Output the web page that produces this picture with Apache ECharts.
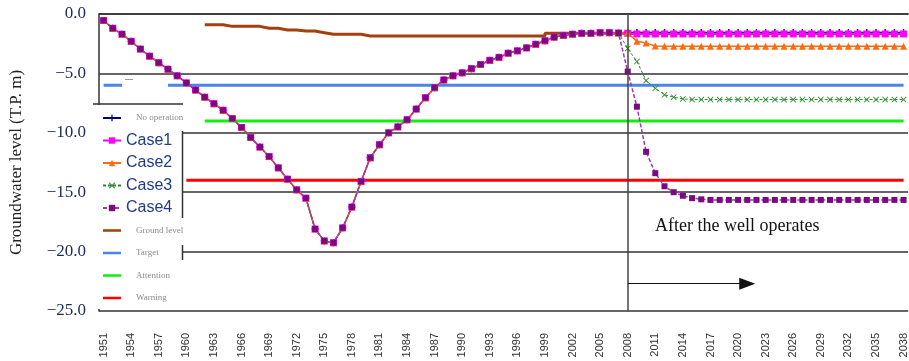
<!DOCTYPE html>
<html><head><meta charset="utf-8">
<script src="https://cdn.jsdelivr.net/npm/echarts@6/dist/echarts.min.js"></script>
<style>html,body{margin:0;padding:0;background:#fff}#c{width:909px;height:361px}</style>
</head><body><div id="c"></div>
<script>
const years = ['1951','1952','1953','1954','1955','1956','1957','1958','1959','1960',
'1961','1962','1963','1964','1965','1966','1967','1968','1969','1970',
'1971','1972','1973','1974','1975','1976','1977','1978','1979','1980',
'1981','1982','1983','1984','1985','1986','1987','1988','1989','1990',
'1991','1992','1993','1994','1995','1996','1997','1998','1999','2000',
'2001','2002','2003','2004','2005','2006','2007','2008','2009','2010',
'2011','2012','2013','2014','2015','2016','2017','2018','2019','2020',
'2021','2022','2023','2024','2025','2026','2027','2028','2029','2030',
'2031','2032','2033','2034','2035','2036','2037','2038'];

// 1951-2007 (common to all cases)
const history = [-0.55,-1.2,-1.7,-2.3,-2.95,-3.55,-4.1,-4.65,-5.2,-5.8,
-6.4,-7.0,-7.55,-8.1,-8.8,-9.55,-10.4,-11.2,-12.0,-12.95,
-13.9,-14.8,-15.5,-18.1,-19.1,-19.25,-18.0,-16.25,-14.1,-12.1,
-11.0,-10.0,-9.5,-8.9,-8.0,-7.05,-6.2,-5.55,-5.2,-4.95,
-4.6,-4.25,-3.9,-3.65,-3.3,-3.1,-2.85,-2.55,-2.25,-1.95,
-1.8,-1.7,-1.63,-1.63,-1.57,-1.57,-1.6];

// 2008-2038
const noOpAfter = [-1.55,-1.55,-1.55,-1.55,-1.55,-1.55,-1.55,-1.55,-1.55,-1.55,-1.55,-1.55,-1.55,-1.55,-1.55,-1.55,-1.55,-1.55,-1.55,-1.55,-1.55,-1.55,-1.55,-1.55,-1.55,-1.55,-1.55,-1.55,-1.55,-1.55,-1.55];
const case1After = [-1.62,-1.68,-1.68,-1.68,-1.68,-1.68,-1.68,-1.68,-1.68,-1.68,-1.68,-1.68,-1.68,-1.68,-1.68,-1.68,-1.68,-1.68,-1.68,-1.68,-1.68,-1.68,-1.68,-1.68,-1.68,-1.68,-1.68,-1.68,-1.68,-1.68,-1.68];
const case2After = [-1.6,-2.3,-2.45,-2.7,-2.72,-2.72,-2.72,-2.72,-2.72,-2.72,-2.72,-2.72,-2.72,-2.72,-2.72,-2.72,-2.72,-2.72,-2.72,-2.72,-2.72,-2.72,-2.72,-2.72,-2.72,-2.72,-2.72,-2.72,-2.72,-2.72,-2.72];
const case3After = [-2.9,-4.0,-5.6,-6.25,-6.8,-7.0,-7.15,-7.2,-7.2,-7.2,-7.2,-7.2,-7.2,-7.2,-7.2,-7.2,-7.2,-7.2,-7.2,-7.2,-7.2,-7.2,-7.2,-7.2,-7.2,-7.2,-7.2,-7.2,-7.2,-7.2,-7.2];
const case4After = [-4.85,-7.8,-11.6,-13.4,-14.5,-15.0,-15.3,-15.5,-15.6,-15.65,-15.65,-15.65,-15.65,-15.65,-15.65,-15.65,-15.65,-15.65,-15.65,-15.65,-15.65,-15.65,-15.65,-15.65,-15.65,-15.65,-15.65,-15.65,-15.65,-15.65,-15.65];

// 1951-2038
const groundLevel = [null,null,null,null,null,null,null,null,null,null,null,
-0.9,-0.9,-1.04,-1.04,-1.04,-1.04,-1.2,-1.2,-1.35,-1.35,-1.43,-1.43,-1.57,
-1.71,-1.71,-1.71,-1.71,
-1.85,-1.85,-1.85,-1.85,-1.85,-1.85,-1.85,-1.85,-1.85,-1.85,-1.85,-1.85,-1.85,-1.85,-1.85,-1.85,-1.85,-1.85,-1.85,-1.85,
-1.63,-1.63,-1.63,-1.63,-1.63,-1.63,-1.63,-1.63,-1.63,-1.63,-1.63,-1.63,-1.63,-1.63,-1.63,-1.63,-1.63,-1.63,-1.63,-1.63,
-1.63,-1.63,-1.63,-1.63,-1.63,-1.63,-1.63,-1.63,-1.63,-1.63,-1.63,-1.63,-1.63,-1.63,-1.63,-1.63,-1.63,-1.63,-1.63,-1.63];

const targetLevel = -6.0, targetGap = ['1954','1957'];
const attentionLevel = -9.0, attentionStart = '1962';
const warningLevel = -14.0, warningStart = '1960';
const yTicks = [0, -5, -10, -15, -20, -25];

function levelLine(level, start, gap) {
  return years.map(y => {
    if (start && y < start) return null;
    if (gap && y >= gap[0] && y <= gap[1]) return null;
    return level;
  });
}

const plusPath = 'path://M4,0H6V4H10V6H6V10H4V6H0V4H4Z';
const xPath = 'path://M1,0L5,4L9,0L10,1L6,5L10,9L9,10L5,6L1,10L0,9L4,5L0,1Z';
const barIcon = 'path://M0,0H0.01V0.01H0Z M0,2.8H18V5.2H0Z M17.99,7.99H18V8H17.99Z';

const small = {fontFamily:'Liberation Serif', fontSize:9, color:'#8a8a8a', lineHeight:16, padding:[0,0,0,10]};
const big = {fontFamily:'Liberation Sans Narrow, Arial Narrow, sans-serif', fontSize:16, color:'#1f3b8a', lineHeight:16};

const chart = echarts.init(document.getElementById('c'));
chart.setOption({
  animation: false,
  backgroundColor: '#fff',
  grid: {left: 93, top: 14, width: 821, height: 297},
  legend: {
    orient: 'vertical', left: 97, top: 105, itemWidth: 18, itemHeight: 8, itemGap: 6.5,
    selectedMode: false, symbolKeepAspect: false,
    data: [
      {name:'No operation', textStyle: small},
      {name:'Case1', textStyle: big},
      {name:'Case2', textStyle: big},
      {name:'Case3', textStyle: big},
      {name:'Case4', textStyle: big},
      {name:'Ground level', textStyle: small, icon: barIcon},
      {name:'Target', textStyle: small, icon: barIcon},
      {name:'Attention', textStyle: small, icon: barIcon},
      {name:'Warning', textStyle: small, icon: barIcon}
    ]
  },
  xAxis: {
    type: 'category', data: years, boundaryGap: true,
    axisLine: {lineStyle: {color: '#333', width: 1.5}},
    axisTick: {inside: true, length: 5, interval: 0, lineStyle: {color: '#333'}},
    axisLabel: {interval: 2, rotate: 90, margin: 22, fontFamily: 'Liberation Sans, Arial', fontSize: 11, color: '#333'},
    splitLine: {show: false}
  },
  yAxis: {
    type: 'value', min: -25, max: 0, interval: 5,
    name: 'Groundwater level (T.P. m)', nameLocation: 'middle', nameGap: 74,
    nameTextStyle: {fontFamily: 'Liberation Serif', fontSize: 17, color: '#222'},
    axisLine: {show: true, lineStyle: {color: '#333', width: 1.5}},
    axisTick: {show: false},
    axisLabel: {margin: 13, fontFamily: 'Liberation Serif', fontSize: 17, color: '#1c2a5c',
      formatter: v => yTicks.indexOf(v) >= 0 ? (v < 0 ? '\u2212' + Math.abs(v).toFixed(1) : v.toFixed(1)) : ''},
    splitLine: {show: true, lineStyle: {color: '#333', width: 1.5}}
  },
  graphic: [
    {type: 'rect', z: 1, shape: {x: 94.5, y: 105, width: 87.5, height: 204}, style: {fill: '#fff'}},
    {type: 'line', z: 3, shape: {x1: 93, y1: 104, x2: 183, y2: 104}, style: {stroke: '#333', lineWidth: 1.5}},
    {type: 'line', z: 3, shape: {x1: 182.5, y1: 131, x2: 182.5, y2: 218}, style: {stroke: '#333', lineWidth: 1.5}},
    {type: 'line', z: 3, shape: {x1: 182.5, y1: 245, x2: 182.5, y2: 260}, style: {stroke: '#333', lineWidth: 1.5}},
    {type: 'line', z: 3, shape: {x1: 125, y1: 79.5, x2: 133, y2: 79.5}, style: {stroke: '#999', lineWidth: 1}},
    {type: 'text', z: 3, left: 655, top: 217, style: {text: 'After the well operates', fontFamily: 'Liberation Serif', fontSize: 18, fill: '#111'}}
  ],
  series: [
    {name:'Target', type:'line', data: levelLine(targetLevel, null, targetGap), symbol:'none', z:2,
     lineStyle:{color:'#4a86e8', width:3}, itemStyle:{color:'#4a86e8'}},
    {name:'Attention', type:'line', data: levelLine(attentionLevel, attentionStart), symbol:'none', z:2,
     lineStyle:{color:'#11ee11', width:3}, itemStyle:{color:'#11ee11'}},
    {name:'Warning', type:'line', data: levelLine(warningLevel, warningStart), symbol:'none', z:2,
     lineStyle:{color:'#ff0000', width:3}, itemStyle:{color:'#ff0000'}},
    {name:'Ground level', type:'line', data: groundLevel, step:'end', symbol:'none', z:2,
     lineStyle:{color:'#a5400e', width:3}, itemStyle:{color:'#a5400e'}},
    {name:'No operation', type:'line', data: history.concat(noOpAfter), symbol: plusPath, symbolSize: 7, showAllSymbol: true, z:3,
     lineStyle:{color:'#000080', width:1}, itemStyle:{color:'#000080'}},
    {name:'Case1', type:'line', data: history.concat(case1After), symbol:'rect', symbolSize: 7, showAllSymbol: true, z:3,
     lineStyle:{color:'#ff00ff', width:1.5}, itemStyle:{color:'#ff00ff'}},
    {name:'Case2', type:'line', data: history.concat(case2After), symbol:'triangle', symbolSize: 7, showAllSymbol: true, z:3,
     lineStyle:{color:'#ff6a10', width:1.5}, itemStyle:{color:'#ff6a10'}},
    {name:'Case3', type:'line', data: history.concat(case3After), symbol: xPath, symbolSize: 6, showAllSymbol: true, z:3,
     lineStyle:{color:'#2a8a2a', width:1, type:[3,2]}, itemStyle:{color:'#2a8a2a'}},
    {name:'Case4', type:'line', data: history.concat(case4After), symbol:'rect', symbolSize: 6, showAllSymbol: true, z:3,
     lineStyle:{color:'#9b3aa8', width:1.5, type:[4,2]}, itemStyle:{color:'#7a0a80'},
     markLine: {
       silent: true, animation: false, label: {show: false}, emphasis: {disabled: true},
       data: [
         [{xAxis: '2008', yAxis: 0, symbol: 'none', lineStyle: {color: '#444', width: 1.5, type: 'solid'}},
          {xAxis: '2008', yAxis: -25, symbol: 'none'}],
         [{coord: ['2008', -22.7], symbol: 'none', lineStyle: {color: '#111', width: 1, type: 'solid'}},
          {coord: ['2021', -22.7], symbol: 'triangle', symbolSize: [12, 16], itemStyle: {color: '#111'}}]
       ]
     }}
  ]
});
</script></body></html>
